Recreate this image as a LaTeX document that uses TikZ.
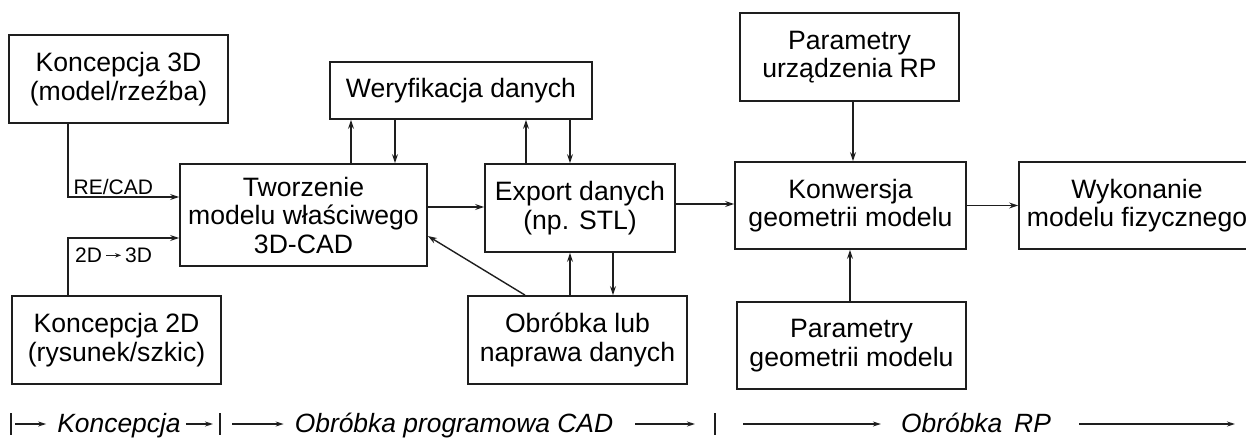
\documentclass[tikz,border=0pt]{standalone}
\usepackage{fontspec}
\setmainfont{Liberation Sans}
\usetikzlibrary{arrows.meta}
\definecolor{ink}{HTML}{1E1E1E}

\begin{document}
\begin{tikzpicture}[x=1pt,y=-1pt,
  box/.style={draw=ink,line width=1.8pt,align=center,inner sep=0pt,font=\fontsize{26.6}{28.5}\selectfont},
  arr/.style={-{Stealth[length=9pt,width=6pt]},line width=1.4pt,draw=ink},
  thinarr/.style={-{Stealth[length=8pt,width=5pt]},line width=1.3pt,draw=ink},
  lbl/.style={font=\fontsize{21}{24}\selectfont,inner sep=0pt},
  phase/.style={font=\fontsize{26.4}{28}\selectfont\itshape,inner sep=0pt,anchor=base}]
\useasboundingbox (0,0) rectangle (1246,439);
% boxes
\node[box,minimum width=219pt,minimum height=88pt] (k3d) at (118.5,79) {Koncepcja 3D\\(model/rzeźba)};
\node[box,minimum width=209pt,minimum height=88pt] (k2d) at (116.5,340) {Koncepcja 2D\\(rysunek/szkic)};
\node[box,minimum width=247pt,minimum height=102pt] (tworz) at (303.5,215) {Tworzenie\\modelu właściwego\\3D-CAD};
\node[box,minimum width=262pt,minimum height=57pt] (weryf) at (461,90.5) {Weryfikacja danych};
\node[box,minimum width=190pt,minimum height=88pt] (export) at (580,208) {Export danych\\(np. STL)};
\node[box,minimum width=219pt,minimum height=88pt] (obrob) at (577.5,340) {Obróbka lub\\naprawa danych};
\node[box,minimum width=219pt,minimum height=88pt] (paramRP) at (849.5,57) {Parametry\\urządzenia RP};
\node[box,minimum width=231pt,minimum height=87pt] (konw) at (850.5,205.5) {Konwersja\\geometrii modelu};
\node[box,minimum width=229pt,minimum height=87pt] (paramG) at (851.5,345.5) {Parametry\\geometrii modelu};
\node[box,minimum width=236pt,minimum height=87pt] (wykon) at (1137,205.5) {Wykonanie\\modelu fizycznego};
% connectors
\draw[arr] (k3d.south -| 68,0) |- node[lbl,anchor=base west,pos=0.5,xshift=5pt,yshift=3pt] (recad) {RE/CAD} (tworz.west |- 0,197);
\draw[arr] (k2d.north -| 68,0) |- node[lbl,anchor=base west,pos=0.5,xshift=7pt,yshift=-24pt] (dd) {2D\,\tikz[baseline=-0.6ex]\draw[-{Stealth[length=6pt,width=4.5pt]},line width=1.1pt,draw=ink] (0pt,0pt) -- (15pt,0pt);\,3D} (tworz.west |- 0,238);
\draw[arr] (tworz.north -| 351,0) -- (weryf.south -| 351,0);
\draw[arr] (weryf.south -| 395,0) -- (tworz.north -| 395,0);
\draw[arr] (export.north -| 526,0) -- (weryf.south -| 526,0);
\draw[arr] (weryf.south -| 570,0) -- (export.north -| 570,0);
\draw[arr] (tworz.east |- 0,207) -- (export.west |- 0,207);
\draw[arr] (obrob.north -| 525,0) -- (tworz.east |- 0,236);
\draw[arr] (obrob.north -| 570,0) -- (export.south -| 570,0);
\draw[arr] (export.south -| 613,0) -- (obrob.north -| 613,0);
\draw[arr] (export.east |- 0,204) -- (konw.west |- 0,204);
\draw[arr] (paramRP.south -| 853,0) -- (konw.north -| 853,0);
\draw[arr] (paramG.north -| 850,0) -- (konw.south -| 850,0);
\draw[arr] (konw) -- (wykon);
% phases
\coordinate (bar1) at (11,424);
\coordinate (bar2) at (220,424);
\coordinate (bar3) at (715,424);
\coordinate (tip) at (1235,424);
\foreach \b in {bar1,bar2,bar3}
  \draw[ink,line width=1.3pt] ([yshift=11pt]\b) -- ([yshift=-11pt]\b);
\node[phase] (konc) at (119,432) {Koncepcja};
\node[phase] (cadT) at (454,432) {Obróbka programowa CAD};
\node[phase] (rpT) at (976,432) {Obróbka\hspace{0.45em}RP};
\draw[thinarr,shorten <=4pt,shorten >=11pt] (bar1) -- (konc.west |- bar1);
\draw[thinarr,shorten <=5pt,shorten >=7pt] (konc.east |- bar2) -- (bar2);
\draw[thinarr,shorten <=12pt,shorten >=11pt] (bar2) -- (cadT.west |- bar2);
\draw[thinarr,shorten <=22pt,shorten >=20pt] (cadT.east |- bar3) -- (bar3);
\draw[thinarr,shorten <=28pt,shorten >=20pt] (bar3) -- (rpT.west |- bar3);
\draw[thinarr,shorten <=28pt] (rpT.east |- tip) -- (tip);
\end{tikzpicture}
\end{document}
